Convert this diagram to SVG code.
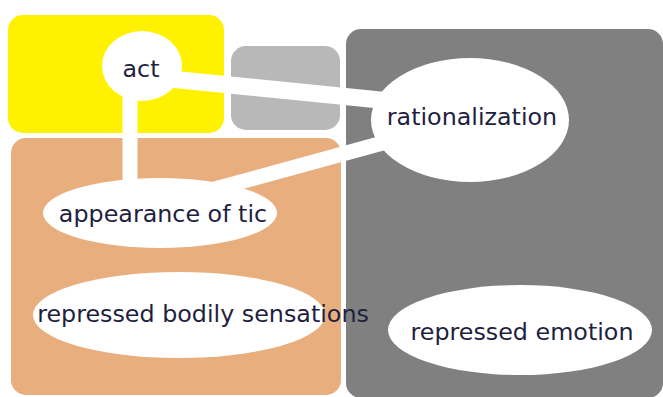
<svg xmlns="http://www.w3.org/2000/svg" width="663" height="397" viewBox="0 0 663 397">
<style>
.lbl{font-family:"DejaVu Sans",Verdana,sans-serif;font-size:23.8px;fill:#1f1f3f;text-anchor:middle}
.node{fill:#ffffff}
.conn{stroke:#ffffff;fill:none}
</style>
<rect width="663" height="397" fill="#ffffff"/>
<g id="regions">
<rect x="8" y="15" width="216" height="118" rx="15" fill="#fff200"/>
<rect x="231" y="46" width="109" height="84" rx="15" fill="#b8b8b8"/>
<rect x="11" y="138" width="330" height="257" rx="15" fill="#e8ae7e"/>
<rect x="346" y="29" width="317" height="369" rx="15" fill="#808080"/>
</g>
<g id="connectors">
<line class="conn" x1="130" y1="70" x2="130" y2="195" stroke-width="15"/>
<line class="conn" x1="160" y1="78" x2="420" y2="104" stroke-width="17"/>
<line class="conn" x1="200" y1="193" x2="390" y2="141" stroke-width="15"/>
</g>
<g id="act">
<ellipse class="node" cx="142" cy="66" rx="40" ry="35"/>
<text class="lbl" x="141" y="77">act</text>
</g>
<g id="rationalization">
<ellipse class="node" cx="470" cy="120" rx="99" ry="62"/>
<text class="lbl" x="472" y="125">rationalization</text>
</g>
<g id="appearance">
<ellipse class="node" cx="160" cy="213" rx="117" ry="35"/>
<text class="lbl" x="163" y="222">appearance of tic</text>
</g>
<g id="bodily">
<ellipse class="node" cx="179" cy="315" rx="146" ry="43"/>
<text class="lbl" x="203" y="322">repressed bodily sensations</text>
</g>
<g id="emotion">
<ellipse class="node" cx="520" cy="330" rx="132" ry="45"/>
<text class="lbl" x="522" y="340">repressed emotion</text>
</g>
</svg>
